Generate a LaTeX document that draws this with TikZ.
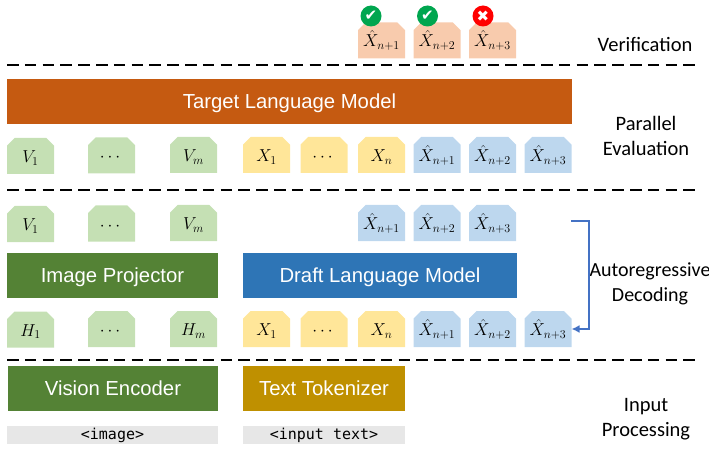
\documentclass[tikz,border=0pt]{standalone}
\usepackage{amsmath}
\usepackage{fontspec}
\setmainfont{Liberation Sans}
\setmonofont{DejaVu Sans Mono}
\newfontfamily\labelfont{Carlito}
\newfontfamily\iconfont{DejaVu Sans}
\usetikzlibrary{shapes.misc,arrows.meta}
\definecolor{targetorange}{HTML}{C55A11}
\definecolor{projgreen}{HTML}{548235}
\definecolor{draftblue}{HTML}{2E75B6}
\definecolor{tokgold}{HTML}{BF9000}
\definecolor{lightgreen}{HTML}{C5E0B4}
\definecolor{lightyellow}{HTML}{FFE699}
\definecolor{lightblue}{HTML}{BDD7EE}
\definecolor{lightpeach}{HTML}{F8CBAD}
\definecolor{lightgrey}{HTML}{E7E7E7}
\definecolor{fbblue}{HTML}{4472C4}
\definecolor{okgreen}{HTML}{00A64F}

\begin{document}
\begin{tikzpicture}[x=1pt,y=-1pt,node distance=55.5pt]
            \tikzstyle{token} = [chamfered rectangle,
            chamfered rectangle corners={north west,north east},
            chamfered rectangle xsep=4pt,
            minimum width=47pt,
            minimum height=36pt,
            inner sep=0pt,
            outer sep=0pt,
            text height=13pt,
            text depth=0pt,
            font=\fontsize{17}{19}\selectfont]
            \tikzstyle{vis} = [token, fill=lightgreen]
            \tikzstyle{txt} = [token, fill=lightyellow]
            \tikzstyle{gen} = [token, fill=lightblue]
            \tikzstyle{ver} = [token, fill=lightpeach]
            \tikzstyle{block} = [rectangle,
            minimum height=45pt,
            inner sep=0pt,
            text=white,
            text height=14pt,
            text depth=0pt,
            font=\fontsize{20.3}{24}\selectfont]
            \tikzstyle{inputbar} = [rectangle,
            minimum height=18pt,
            inner sep=0pt,
            fill=lightgrey,
            font=\ttfamily\fontsize{15}{16}\selectfont]
            \tikzstyle{phase} = [font=\labelfont\fontsize{20.5}{25}\selectfont, align=center, inner sep=0pt]
            \tikzstyle{status} = [circle, minimum size=21pt, inner sep=0pt, text=white, font=\iconfont\fontsize{15}{15}\selectfont]
            \tikzstyle{sep} = [line width=2.2pt, dash pattern=on 11.5pt off 6.3pt]
            \tikzstyle{arrow} = [line width=2.2pt,fbblue,-{Latex[length=8pt,width=8pt]}]
            \useasboundingbox (0,0) rectangle (709,449);

            % verification
            \node (ver1)[ver] at (381.5,40.5) {$\hat{X}_{n+1}$};
            \node (ver2)[ver, right of=ver1] {$\hat{X}_{n+2}$};
            \node (ver3)[ver, right of=ver2] {$\hat{X}_{n+3}$};
            \node (ok1)[status, fill=okgreen] at (371,16) {✔};
            \node (ok2)[status, fill=okgreen] at (427.5,16) {✔};
            \node (bad3)[status, fill=red] at (483,16) {✖};

            % parallel evaluation
            \node (target)[block, fill=targetorange, minimum width=565pt] at (289.5,101.5) {Target Language Model};
            \node (ev1)[vis] at (30.5,156) {$V_1$};
            \node (ev2)[vis] at (111.5,155.5) {$\cdots$};
            \node (ev3)[vis] at (193.5,155) {$V_m$};
            \node (ex1)[txt] at (266.5,155) {$X_1$};
            \node (ex2)[txt, node distance=57.5pt, right of=ex1] {$\cdots$};
            \node (ex3)[txt, node distance=57.5pt, right of=ex2] {$X_n$};
            \node (eg1)[gen, right of=ex3] {$\hat{X}_{n+1}$};
            \node (eg2)[gen, right of=eg1] {$\hat{X}_{n+2}$};
            \node (eg3)[gen, right of=eg2] {$\hat{X}_{n+3}$};

            % autoregressive decoding
            \node (ov1)[vis] at (30.5,224) {$V_1$};
            \node (ov2)[vis] at (111.5,223.5) {$\cdots$};
            \node (ov3)[vis] at (193.5,223) {$V_m$};
            \node (og1)[gen] at (381.5,223) {$\hat{X}_{n+1}$};
            \node (og2)[gen, right of=og1] {$\hat{X}_{n+2}$};
            \node (og3)[gen, right of=og2] {$\hat{X}_{n+3}$};
            \node (proj)[block, fill=projgreen, minimum width=211pt] at (112.5,275.5) {Image Projector};
            \node (draft)[block, fill=draftblue, minimum width=274pt] at (380,275.5) {Draft Language Model};
            \node (iv1)[vis] at (30.5,329.5) {$H_1$};
            \node (iv2)[vis] at (111.5,329) {$\cdots$};
            \node (iv3)[vis] at (193.5,329) {$H_m$};
            \node (ix1)[txt] at (266.5,329) {$X_1$};
            \node (ix2)[txt, node distance=57.5pt, right of=ix1] {$\cdots$};
            \node (ix3)[txt, node distance=57.5pt, right of=ix2] {$X_n$};
            \node (ig1)[gen, right of=ix3] {$\hat{X}_{n+1}$};
            \node (ig2)[gen, right of=ig1] {$\hat{X}_{n+2}$};
            \node (ig3)[gen, right of=ig2] {$\hat{X}_{n+3}$};

            % input processing
            \node (vision)[block, fill=projgreen, minimum width=210pt] at (113,388.5) {Vision Encoder};
            \node (tokenizer)[block, fill=tokgold, minimum width=162pt] at (324,388.5) {Text Tokenizer};
            \node (image)[inputbar, minimum width=211pt] at (112.5,435) {<image>};
            \node (input)[inputbar, minimum width=162pt] at (324,435) {<input text>};

            % phase labels
            \node (verif)[phase] at (645,44) {Verification};
            \node (parallel)[phase] at (646,135.5) {Parallel\\Evaluation};
            \node (auto)[phase, font=\labelfont\fontsize{20}{25}\selectfont] at (650,284) {Autoregressive\\Decoding};
            \node (proc)[phase] at (646,419) {Input\\Processing};

            % separators
            \coordinate (sepa) at (7,65);
            \coordinate (sepb) at (700,65);
            \coordinate (sepc) at (7,190);
            \coordinate (sepd) at (700,190);
            \coordinate (sepe) at (7,360);
            \coordinate (sepf) at (700,360);
            \draw [sep] (sepa) -- (sepb);
            \draw [sep] (sepc) -- (sepd);
            \draw [sep] (sepe) -- (sepf);

            \coordinate (fbstart) at (571,221);
            \coordinate (fbmid) at (589,276);
            \draw [arrow] (fbstart) -| (fbmid) |- (ig3.east);
        \end{tikzpicture}
\end{document}
